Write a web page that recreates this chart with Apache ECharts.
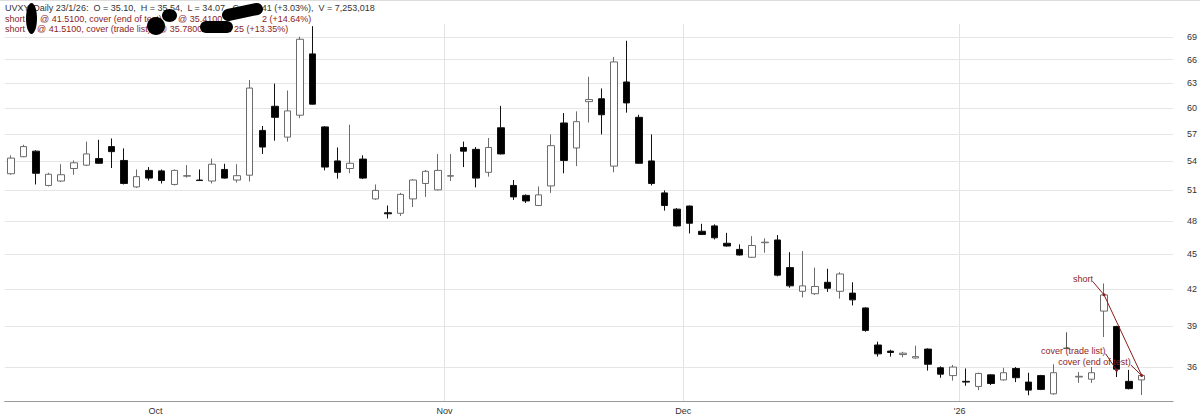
<!DOCTYPE html>
<html><head><meta charset="utf-8">
<script src="https://cdn.jsdelivr.net/npm/echarts@6/dist/echarts.min.js"></script>
<style>html,body{margin:0;padding:0;background:#fff}#c{width:1200px;height:418px}</style>
</head><body><div id="c"></div>
<script>
// ---------- data ----------
const dates = [
'2025-09-15','2025-09-16','2025-09-17','2025-09-18','2025-09-19','2025-09-22','2025-09-23','2025-09-24','2025-09-25','2025-09-26','2025-09-29','2025-09-30',
'2025-10-01','2025-10-02','2025-10-03','2025-10-06','2025-10-07','2025-10-08','2025-10-09','2025-10-10','2025-10-13','2025-10-14','2025-10-15','2025-10-16','2025-10-17','2025-10-20','2025-10-21','2025-10-22','2025-10-23','2025-10-24','2025-10-27','2025-10-28','2025-10-29','2025-10-30','2025-10-31',
'2025-11-03','2025-11-04','2025-11-05','2025-11-06','2025-11-07','2025-11-10','2025-11-11','2025-11-12','2025-11-13','2025-11-14','2025-11-17','2025-11-18','2025-11-19','2025-11-20','2025-11-21','2025-11-24','2025-11-25','2025-11-26','2025-11-28',
'2025-12-01','2025-12-02','2025-12-03','2025-12-04','2025-12-05','2025-12-08','2025-12-09','2025-12-10','2025-12-11','2025-12-12','2025-12-15','2025-12-16','2025-12-17','2025-12-18','2025-12-19','2025-12-22','2025-12-23','2025-12-24','2025-12-26','2025-12-29','2025-12-30','2025-12-31',
'2026-01-02','2026-01-05','2026-01-06','2026-01-07','2026-01-08','2026-01-09','2026-01-12','2026-01-13','2026-01-14','2026-01-15','2026-01-16','2026-01-20','2026-01-21','2026-01-22','2026-01-23'
];
const open  = [52.7,54.5,55.1,51.5,51.95,53.25,53.6,54.3,55.6,54.1,51.35,53.05,
53.0,51.6,52.45,52.05,51.95,53.15,52.05,52.55,57.4,60.2,56.65,59.15,66.75,57.8,54.05,53.25,54.25,50.15,48.8,48.75,50.15,51.7,51.05,
52.45,55.5,55.3,52.85,57.7,51.5,50.5,49.5,51.45,58.25,55.45,60.75,61.1,53.5,63.15,58.9,54.05,50.75,49.15,
49.45,47.05,47.55,45.95,45.4,44.7,46.0,46.25,43.8,41.8,41.6,42.55,41.8,41.65,40.45,37.6,37.15,36.9,36.65,37.3,35.95,35.4,
35.0,34.65,35.45,35.1,35.9,34.95,35.4,34.15,37.36,35.3,35.15,40.2,39.0,35.0,35.10];
const close = [54.35,55.6,52.75,52.65,52.6,53.85,54.8,53.8,55.05,51.7,52.4,52.25,
52.0,53.05,52.5,52.0,53.7,52.25,52.5,62.4,55.55,58.9,59.65,68.7,60.45,53.4,52.85,53.8,52.25,51.0,48.7,50.6,52.05,52.95,53.05,
52.5,55.1,52.25,55.5,54.8,50.35,49.95,50.55,55.7,54.1,58.4,61.0,59.2,65.7,60.6,53.8,51.7,49.5,47.55,
47.8,46.75,46.45,45.7,44.9,45.75,46.05,43.15,42.25,42.25,42.2,42.05,43.25,41.1,38.7,36.95,37.05,37.0,36.75,36.2,35.5,36.0,
34.95,35.55,34.85,35.6,35.25,34.4,34.45,35.6,37.36,35.35,35.6,41.5,35.85,34.5,35.41];
const low   = [52.6,54.45,51.6,51.4,51.85,52.6,53.5,53.75,53.3,51.6,51.25,52.0,
51.7,51.5,52.3,51.95,51.7,52.2,51.8,51.9,54.8,56.25,56.15,58.8,60.4,53.05,52.2,52.75,52.15,50.05,48.25,48.5,49.35,50.35,51.0,
51.95,53.4,51.3,52.4,54.75,50.05,49.75,49.45,50.75,52.75,53.5,58.3,56.95,52.85,59.45,53.75,51.5,49.0,47.5,
46.85,46.7,46.3,45.65,44.85,44.65,45.1,43.05,42.1,41.3,41.5,41.75,41.2,40.65,38.6,36.75,36.75,36.7,36.6,35.75,35.25,35.05,
34.7,34.4,34.75,35.05,34.95,34.05,34.4,34.1,37.36,34.9,34.9,38.2,35.3,34.45,34.07];
const high  = [54.65,55.8,55.2,52.8,53.7,54.1,56.15,56.35,56.5,55.4,53.15,53.4,
53.15,53.15,53.6,53.15,54.3,53.75,53.7,63.4,57.9,62.95,62.1,69.05,70.5,57.9,55.5,58.05,54.65,51.6,49.5,50.75,52.15,53.1,54.8,
54.8,56.15,55.55,56.55,60.25,52.05,50.6,51.4,56.95,59.4,59.6,63.8,62.35,66.35,68.5,59.2,56.95,51.0,49.25,
49.5,47.75,47.7,46.9,45.85,46.6,46.4,46.7,45.15,45.25,43.8,43.7,43.4,42.55,40.5,37.85,37.25,37.1,37.55,37.35,36.05,36.15,
35.9,35.6,35.5,35.95,36.0,35.6,35.45,36.2,38.55,35.65,36.0,42.45,39.05,35.8,35.54];
const yTicks = [36,39,42,45,48,51,54,57,60,63,66,69];
const monthLabels = ['Oct','Nov','Dec',"'26"];
const tradeEntry = {date:'2026-01-20', price:41.51, label:'short'};
const tradeExits = [
  {date:'2026-01-21', price:35.78, label:'cover (trade list)'},
  {date:'2026-01-23', price:35.41, label:'cover (end of test)'}
];
const header1 = 'UVXY, Daily 23/1/26:  O = 35.10,  H = 35.54,  L = 34.07,  C = 35.41 (+3.03%),  V = 7,253,018';
const header2 = ['short', '@ 41.5100, cover (end of test)', '@ 35.4100', '2 (+14.64%)'];
const header3 = ['short', '@ 41.5100, cover (trade list)', '@ 35.7800', '25 (+13.35%)'];

// ---------- chart ----------
const FONT = '"Liberation Sans", Arial, sans-serif';
const TR = '#8b1d1d';
const chart = echarts.init(document.getElementById('c'), null, {renderer:'svg'});
const monthStarts = [];
dates.forEach((d,i)=>{ if(i>0 && d.slice(0,7)!==dates[i-1].slice(0,7)) monthStarts.push(i); });
const categories = dates.concat(['','']);
const candle = dates.map((d,i)=>[open[i],close[i],low[i],high[i]]);
const entryIdx = dates.indexOf(tradeEntry.date);
const endExit = tradeExits[tradeExits.length-1];
const endIdx = dates.indexOf(endExit.date);
const tradeLine = dates.map(()=>null);
tradeLine[entryIdx] = tradeEntry.price;
tradeLine[endIdx] = endExit.price;
const isMonthStart = (i)=>monthStarts.indexOf(i) >= 0;

chart.setOption({
  animation:false,
  backgroundColor:'#fff',
  grid:{left:4.7,right:26.9,top:24,bottom:17,containLabel:false,outerBoundsMode:'none'},
  xAxis:{
    type:'category', data:categories, boundaryGap:true,
    axisLine:{show:true,lineStyle:{color:'#999',width:1}},
    axisTick:{show:false},
    axisLabel:{interval:(i)=>isMonthStart(i), formatter:(v,i)=>monthLabels[monthStarts.indexOf(i)] || '',
      color:'#333', fontSize:9, fontFamily:FONT, margin:5, padding:[0,12.56,0,0]},
    splitLine:{show:true, interval:(i)=>isMonthStart(i), showMinLine:false, showMaxLine:false,
      lineStyle:{color:'#e3e3e3',width:1}}
  },
  yAxis:{type:'log', position:'right', min:33.67, max:70.8,
    axisLine:{show:false}, axisTick:{show:false}, axisLabel:{show:false}, splitLine:{show:false}},
  series:[
    {type:'candlestick', data:candle, barWidth:7, silent:true,
     itemStyle:{color:'#fff',color0:'#000',borderColor:'#6b6b6b',borderColor0:'#111',borderColorDoji:'#555',borderWidth:1},
     markLine:{silent:true, z:1, symbol:['none','none'], animation:false,
       lineStyle:{color:'#e6e6e6',type:'solid',width:1},
       label:{show:true,position:'end',distance:14,formatter:(p)=>String(p.value),color:'#333',fontSize:9,fontFamily:FONT},
       emphasis:{disabled:true},
       data:yTicks.map(v=>({yAxis:v}))}
    },
    {type:'line', data:tradeLine, connectNulls:true, symbol:'circle', symbolSize:3, showSymbol:true, showAllSymbol:true,
     lineStyle:{color:TR,width:1}, itemStyle:{color:TR}, z:5, silent:true}
  ]
});

const g = [];
g.push({type:'line', shape:{x1:0,y1:0.5,x2:1200,y2:0.5}, style:{stroke:'#dddddd',lineWidth:1}, z:50, silent:true});
function txt(s, x, y, color, align){
  g.push({type:'text', x:x, y:y, z:60, silent:true,
    style:{text:s, fill:color, font:'9px '+FONT, align:align||'left', textAlign:align||'left', verticalAlign:'middle', textVerticalAlign:'middle'}});
}
txt(header1, 5, 8.3, '#333');
[5,40,178,262].forEach((x,k)=>txt(header2[k], x, 18.6, TR));
[5,37,158,234].forEach((x,k)=>txt(header3[k], x, 29.2, TR));
// redaction blobs present in the reference
g.push({type:'ellipse', shape:{cx:31.5,cy:18.5,rx:5.5,ry:15.5}, style:{fill:'#000'}, z:70, silent:true});
g.push({type:'ellipse', shape:{cx:169.5,cy:15.5,rx:7.5,ry:6.5}, style:{fill:'#000'}, z:70, silent:true});
g.push({type:'ellipse', shape:{cx:156,cy:26,rx:9,ry:9}, style:{fill:'#000'}, z:70, silent:true});
g.push({type:'line', shape:{x1:228,y1:15,x2:257,y2:9}, style:{stroke:'#000',lineWidth:12,lineCap:'round'}, z:70, silent:true});
g.push({type:'line', shape:{x1:206,y1:27,x2:227,y2:27}, style:{stroke:'#000',lineWidth:12,lineCap:'round'}, z:70, silent:true});

// trade annotations positioned from data through the axes
function annotate(date, price, label, dot, dy){
  const p = chart.convertToPixel({gridIndex:0}, [dates.indexOf(date), price]);
  g.push({type:'line', shape:{x1:p[0]-11,y1:p[1]+dy+3,x2:p[0],y2:p[1]}, style:{stroke:TR,lineWidth:1}, z:60, silent:true});
  if (dot) g.push({type:'circle', shape:{cx:p[0],cy:p[1],r:1.5}, style:{fill:TR}, z:60, silent:true});
  txt(label, p[0]-11, p[1]+dy, TR, 'right');
}
annotate(tradeEntry.date, tradeEntry.price, tradeEntry.label, false, -16);
annotate(tradeExits[0].date, tradeExits[0].price, tradeExits[0].label, true, -19.5);
annotate(tradeExits[1].date, tradeExits[1].price, tradeExits[1].label, false, -13.5);
chart.setOption({graphic:{elements:g}});
</script>
</body></html>
